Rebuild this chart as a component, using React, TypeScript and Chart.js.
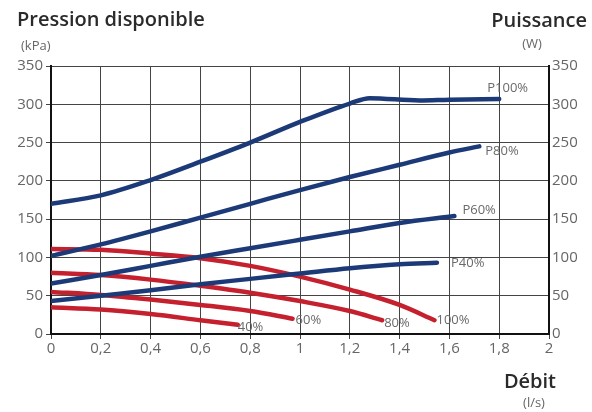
import React, { useEffect, useRef } from "react";
import { Chart, registerables } from "chart.js";

Chart.register(...registerables);

// Flow (l/s) and power (W) for blue curves
const p100Flow = [0, 0.2, 0.4, 0.6, 0.8, 1.0, 1.2, 1.28, 1.48, 1.6, 1.8];
const p100Power = [170, 181, 201, 225, 250, 277, 301, 308, 305, 306, 307];
const p80Flow = [0, 0.2, 0.4, 0.6, 0.8, 1.0, 1.2, 1.4, 1.6, 1.72];
const p80Power = [102, 117, 134, 152, 170, 188, 205, 221, 237, 245];
const p60Flow = [0, 0.2, 0.4, 0.6, 0.8, 1.0, 1.2, 1.4, 1.62];
const p60Power = [66, 77, 89, 101, 112, 123, 134, 145, 154];
const p40Flow = [0, 0.2, 0.4, 0.6, 0.8, 1.0, 1.2, 1.4, 1.55];
const p40Power = [43, 50, 57, 65, 72, 79, 86, 91, 93];

// Flow (l/s) and available pressure (kPa) for red curves
const h100Flow = [0, 0.2, 0.4, 0.6, 0.8, 1.0, 1.2, 1.4, 1.54];
const h100Press = [111, 110, 105, 99, 89, 75, 58, 38, 18];
const h80Flow = [0, 0.2, 0.4, 0.6, 0.8, 1.0, 1.2, 1.33];
const h80Press = [80, 77, 71, 63, 54, 43, 30, 18];
const h60Flow = [0, 0.2, 0.4, 0.6, 0.8, 0.97];
const h60Press = [55, 51, 45, 38, 30, 20];
const h40Flow = [0, 0.2, 0.4, 0.6, 0.75];
const h40Press = [35, 32, 26, 18, 12];

const curveLabels = ["P100%", "P80%", "P60%", "P40%", "100%", "80%", "60%", "40%"];

const xTicks = [0, 0.2, 0.4, 0.6, 0.8, 1, 1.2, 1.4, 1.6, 1.8, 2];
const yTicks = [0, 50, 100, 150, 200, 250, 300, 350];

const BLUE = "#1d3a78";
const RED = "#c4202e";
const FONT = "'Open Sans', Lato, sans-serif";

// label offsets (px) relative to the last point of each curve
const labelOffsets = [
  [-12, -11],
  [6, 5],
  [8, -6],
  [14, 1],
  [2, 0],
  [2, 3],
  [3, 2],
  [0, 2],
];

const pts = (xs: number[], ys: number[]) => xs.map((x, i) => ({ x, y: ys[i] }));

export default function App() {
  const ref = useRef<HTMLCanvasElement>(null);

  useEffect(() => {
    const series = [
      { flow: p100Flow, v: p100Power, color: BLUE, axis: "y1" },
      { flow: p80Flow, v: p80Power, color: BLUE, axis: "y1" },
      { flow: p60Flow, v: p60Power, color: BLUE, axis: "y1" },
      { flow: p40Flow, v: p40Power, color: BLUE, axis: "y1" },
      { flow: h100Flow, v: h100Press, color: RED, axis: "y" },
      { flow: h80Flow, v: h80Press, color: RED, axis: "y" },
      { flow: h60Flow, v: h60Press, color: RED, axis: "y" },
      { flow: h40Flow, v: h40Press, color: RED, axis: "y" },
    ];

    const textPlugin = {
      id: "texts",
      afterDatasetsDraw(chart: any) {
        const ctx = chart.ctx;
        ctx.save();
        chart.data.datasets.forEach((ds: any, i: number) => {
          const meta = chart.getDatasetMeta(i);
          const last = ds.data[ds.data.length - 1];
          const xs = chart.scales.x.getPixelForValue(last.x);
          const ys = chart.scales[meta.yAxisID].getPixelForValue(last.y);
          ctx.font = `13px ${FONT}`;
          ctx.fillStyle = "#6a6a6a";
          ctx.textAlign = "left";
          ctx.textBaseline = "middle";
          ctx.fillText(curveLabels[i], xs + labelOffsets[i][0], ys + labelOffsets[i][1]);
        });
        ctx.fillStyle = "#2a2a2a";
        ctx.textBaseline = "alphabetic";
        ctx.font = `600 20px ${FONT}`;
        ctx.textAlign = "left";
        ctx.fillText("Pression disponible", 17, 26);
        ctx.textAlign = "right";
        ctx.fillText("Puissance", 587, 27);
        ctx.fillText("Débit", 556, 388);
        ctx.font = `13px ${FONT}`;
        ctx.fillStyle = "#666";
        ctx.textAlign = "left";
        ctx.fillText("(kPa)", 21, 50);
        ctx.textAlign = "center";
        ctx.fillText("(W)", 532, 48);
        ctx.fillText("(l/s)", 534, 407);
        ctx.restore();
      },
    };

    const tickFont = { family: FONT, size: 15 };

    const chart = new Chart(ref.current!, {
      type: "line",
      data: {
        datasets: series.map((s) => ({
          data: pts(s.flow, s.v),
          borderColor: s.color,
          borderWidth: 4.5,
          pointRadius: 0,
          cubicInterpolationMode: "monotone" as const,
          yAxisID: s.axis,
          borderCapStyle: "round" as const,
          fill: false,
        })),
      },
      options: {
        animation: false,
        responsive: false,
        maintainAspectRatio: false,
        layout: { padding: { top: 66, left: 0, right: 0, bottom: 0 } },
        plugins: { legend: { display: false }, tooltip: { enabled: false } },
        scales: {
          x: {
            type: "linear",
            min: 0,
            max: 2,
            afterBuildTicks: (s: any) => {
              s.ticks = xTicks.map((v) => ({ value: v }));
            },
            afterFit: (s: any) => {
              s.height = 78;
            },
            ticks: {
              color: "#666",
              font: tickFont,
              padding: 1,
              maxRotation: 0,
              autoSkip: false,
              callback: (v: any) => String(Number(v)).replace(".", ","),
            },
            grid: { color: "#444", lineWidth: 1, tickLength: 5 },
            border: { color: "#111", width: 2 },
          },
          y: {
            position: "left",
            min: 0,
            max: 350,
            afterBuildTicks: (s: any) => {
              s.ticks = yTicks.map((v) => ({ value: v }));
            },
            afterFit: (s: any) => {
              s.width = 51;
            },
            ticks: { color: "#666", font: tickFont, padding: 3 },
            grid: { color: "#444", lineWidth: 1, tickLength: 5 },
            border: { color: "#111", width: 2 },
          },
          y1: {
            position: "right",
            min: 0,
            max: 350,
            afterBuildTicks: (s: any) => {
              s.ticks = yTicks.map((v) => ({ value: v }));
            },
            afterFit: (s: any) => {
              s.width = 43;
            },
            ticks: { color: "#666", font: tickFont, padding: 3 },
            grid: { drawOnChartArea: false, drawTicks: false },
            border: { color: "#111", width: 2 },
          },
        },
      },
      plugins: [textPlugin],
    } as any);
    return () => chart.destroy();
  }, []);

  return (
    <div style={{ position: "fixed", left: 0, top: 0, width: 592, height: 412, background: "#fff" }}>
      <canvas ref={ref} width={592} height={412} style={{ width: 592, height: 412 }} />
    </div>
  );
}
